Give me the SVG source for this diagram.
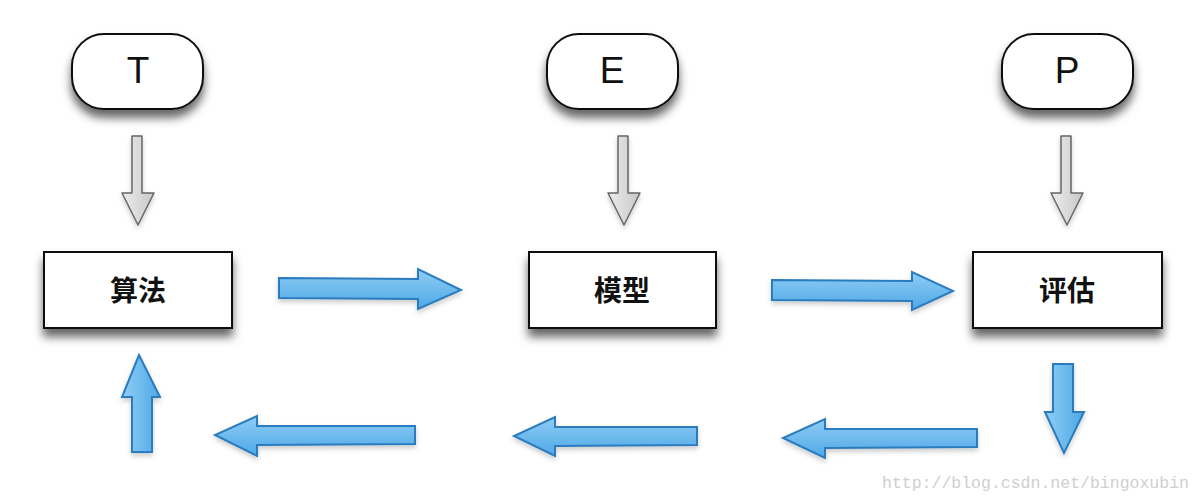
<svg xmlns="http://www.w3.org/2000/svg" width="1202" height="504" viewBox="0 0 1202 504">
<defs>
<filter id="sh" x="-20%" y="-20%" width="140%" height="170%">
<feDropShadow dx="0" dy="8" stdDeviation="5" flood-color="#000" flood-opacity="0.6"/>
</filter>
<filter id="ash" x="-20%" y="-20%" width="140%" height="150%">
<feDropShadow dx="0" dy="3" stdDeviation="2.5" flood-color="#000" flood-opacity="0.2"/>
</filter>
<linearGradient id="bh" x1="0" y1="0" x2="0" y2="1">
<stop offset="0" stop-color="#8fcdf5"/>
<stop offset="1" stop-color="#4ea8e6"/>
</linearGradient>
<linearGradient id="bv" x1="0" y1="0" x2="1" y2="0">
<stop offset="0" stop-color="#8fcdf5"/>
<stop offset="1" stop-color="#4ea8e6"/>
</linearGradient>
<linearGradient id="gv" x1="0" y1="0" x2="1" y2="0">
<stop offset="0" stop-color="#ececec"/>
<stop offset="1" stop-color="#c8c8c8"/>
</linearGradient>
</defs>
<style>
.pill{fill:#fff;stroke:#111;stroke-width:2;filter:url(#sh)}
.box{fill:#fff;stroke:#111;stroke-width:2;filter:url(#sh)}
.lt{font-family:"Liberation Sans",Arial,sans-serif;font-size:37px;fill:#111;text-anchor:middle}
.cn{font-family:"Noto Sans CJK SC","Noto Sans",sans-serif;font-size:28px;font-weight:bold;fill:#111;text-anchor:middle}
.ga{fill:url(#gv);stroke:#666;stroke-width:1.5;stroke-linejoin:round;filter:url(#ash)}
.bh{fill:url(#bh);stroke:#2a7cbf;stroke-width:2;stroke-linejoin:miter;filter:url(#ash)}
.bv{fill:url(#bv);stroke:#2a7cbf;stroke-width:2;stroke-linejoin:miter;filter:url(#ash)}
.wm{font-family:"Liberation Mono","DejaVu Sans Mono",monospace;font-size:16.5px;fill:#cfcfcf}
</style>
<g id="node-T"><rect class="pill" x="72" y="34" width="131" height="75" rx="32" ry="32"/><text class="lt" x="138" y="83">T</text></g>
<g id="node-E"><rect class="pill" x="547" y="34" width="131" height="75" rx="32" ry="32"/><text class="lt" x="612" y="83">E</text></g>
<g id="node-P"><rect class="pill" x="1002" y="34" width="131" height="75" rx="32" ry="32"/><text class="lt" x="1067" y="83">P</text></g>
<g id="node-suanfa"><rect class="box" x="44" y="252" width="188" height="76"/><text class="cn" x="138" y="301">算法</text></g>
<g id="node-moxing"><rect class="box" x="529" y="252" width="187" height="76"/><text class="cn" x="622" y="301">模型</text></g>
<g id="node-pinggu"><rect class="box" x="973" y="252" width="189" height="76"/><text class="cn" x="1067" y="301">评估</text></g>
<g id="connectors">
<polygon class="ga" points="132,136 142,136 142,193 154,193 138,225 122,193 132,193"/>
<polygon class="ga" points="618,136 628,136 628,193 640,193 624,225 608,193 618,193"/>
<polygon class="ga" points="1061,136 1071,136 1071,193 1083,193 1067,225 1051,193 1061,193"/>
<polygon class="bh" points="279,278 418,279 418,269 461,290 418,309 418,299 279,298"/>
<polygon class="bh" points="772,280 912,281 912,272 953,291 912,310 912,301 772,300"/>
<polygon class="bv" points="1053,364 1073,364 1073,412 1084,412 1064,453 1045,412 1053,412"/>
<polygon class="bh" points="977,429 825,429 825,419 783,438 825,458 825,448 977,447"/>
<polygon class="bh" points="697,427 555,427 555,417 514,436 555,456 555,446 697,445"/>
<polygon class="bh" points="415,426 257,426 257,416 215,435 257,456 257,445 415,444"/>
<polygon class="bv" points="132,452 132,397 122,397 139,355 160,397 152,397 152,452"/>
</g>
<text class="wm" x="882" y="488">http://blog.csdn.net/bingoxubin</text>
</svg>
